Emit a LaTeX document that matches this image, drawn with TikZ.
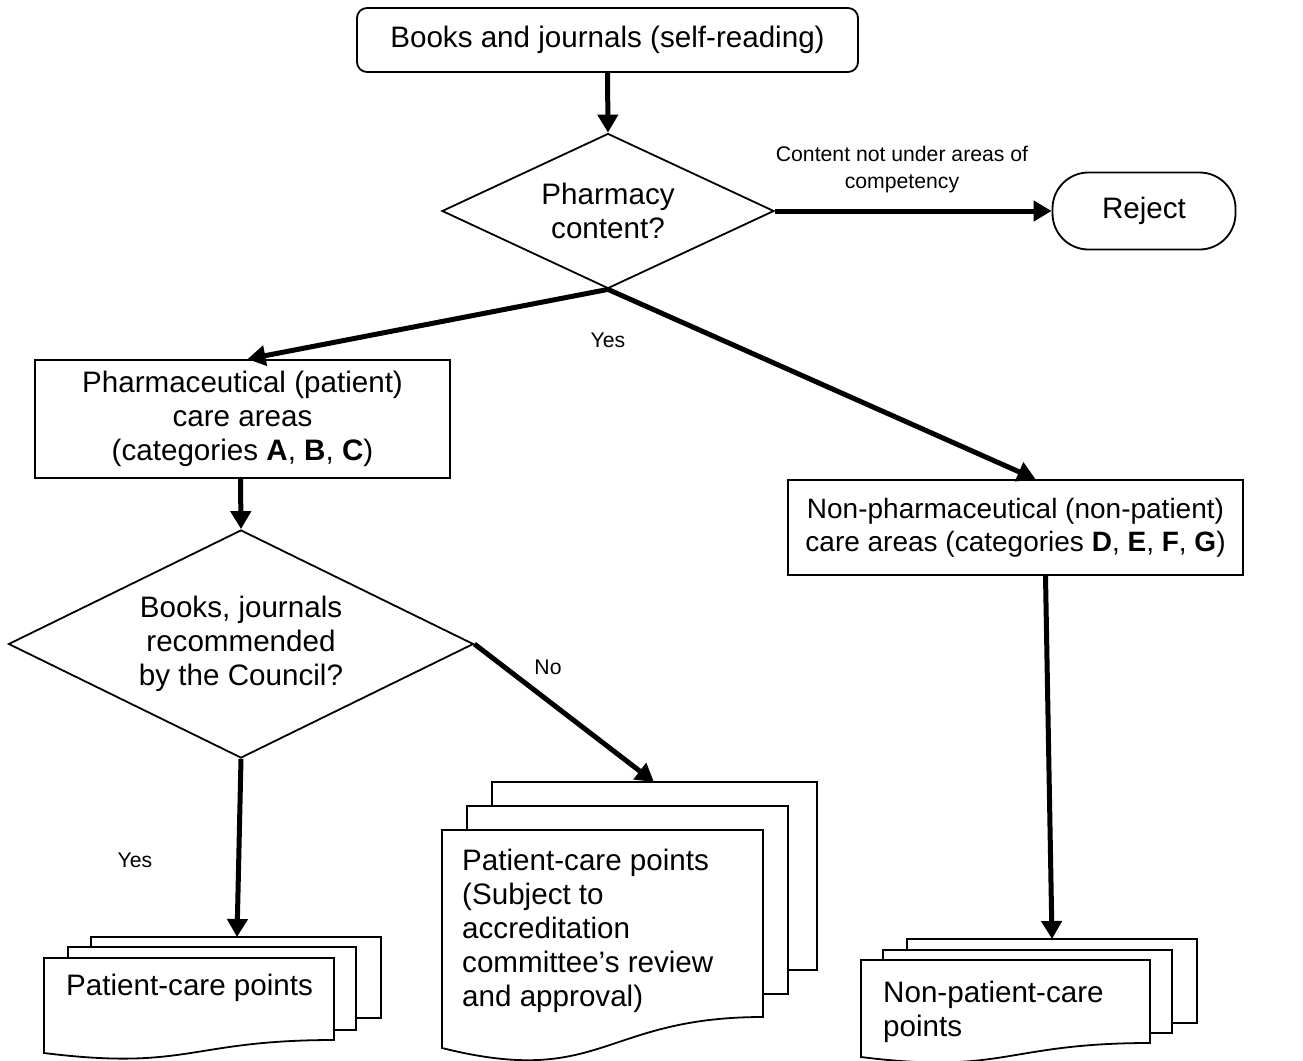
\documentclass[tikz,border=0pt]{standalone}
\usepackage{fontspec}
\setmainfont{Liberation Sans}
\usetikzlibrary{arrows.meta,shapes.geometric}
\tikzset{
  thin line/.style={line width=1.8pt, draw=black},
  arr/.style={line width=5pt, -{Triangle[length=18pt,width=20pt]}},
  maintext/.style={font=\fontsize{29.6}{34}\selectfont},
  smalltext/.style={font=\fontsize{21.2}{27}\selectfont},
  rbox/.style={thin line, rectangle, fill=white, maintext, align=center, inner sep=0pt},
  dec/.style={thin line, diamond, fill=white, maintext, align=center, inner sep=0pt},
  docpage/.style={thin line, fill=white},
  doctext/.style={maintext, align=left, inner sep=0pt, anchor=north west},
}
\begin{document}
\begin{tikzpicture}[x=1pt,y=-1pt]
\useasboundingbox[fill=white] (0,0) rectangle (1303,1060);

% nodes
\node[rbox, rounded corners=10pt, minimum width=501pt, minimum height=64pt] (top) at (607.5,40) {Books and journals (self-reading)};
\node[dec, aspect=2.14, minimum width=332pt, minimum height=155pt] (d1) at (608,211) {Pharmacy\\content?};
\node[rbox, rounded corners=36pt, minimum width=183pt, minimum height=77pt] (reject) at (1144,211) {Reject};
\node[rbox, minimum width=415pt, minimum height=118pt] (lbox) at (242.5,419) {Pharmaceutical (patient)\\care areas\\(categories \textbf{A}, \textbf{B}, \textbf{C})};
\node[rbox, font=\fontsize{28}{33}\selectfont, minimum width=455pt, minimum height=95pt] (rbox) at (1015.5,527.5) {Non-pharmaceutical (non-patient)\\care areas (categories \textbf{D}, \textbf{E}, \textbf{F}, \textbf{G})};
\node[dec, aspect=2.04, minimum width=465pt, minimum height=228pt] (d2) at (241,644) {Books, journals\\recommended\\by the Council?};

% multi-documents
\filldraw[docpage] (91,937) rectangle (381,1018);
\filldraw[docpage] (68,947) rectangle (356,1030);
\filldraw[docpage] (44,958) -- (334,958) -- (334,1040) .. controls (189,1040) and (189,1071) .. (44,1053) -- cycle;
\node[doctext] (ldoc) at (66,973.5) {Patient-care points};
\coordinate (ldoctop) at (237,937);

\filldraw[docpage] (492,782) rectangle (817,970);
\filldraw[docpage] (467,806) rectangle (788,994);
\filldraw[docpage] (442,830) -- (763,830) -- (763,1017) .. controls (602,1017) and (602,1088) .. (442,1048) -- cycle;
\node[doctext] (mdoc) at (462,848.5) {Patient-care points\\(Subject to\\accreditation\\committee’s review\\and approval)};
\coordinate (mdoctop) at (654,782);

\filldraw[docpage] (907,939) rectangle (1197,1023);
\filldraw[docpage] (883,950) rectangle (1172,1033);
\filldraw[docpage] (861,960) -- (1150,960) -- (1150,1043) .. controls (1005,1043) and (1005,1075) .. (861,1057) -- cycle;
\node[doctext] (rdoc) at (883,980.5) {Non-patient-care\\points};
\coordinate (rdoctop) at (1052,939);

% connectors
\draw[arr] (top.south) -- (d1.north);
\draw[arr] (d1.east) -- (reject.west);
\draw[arr] (d1.south) -- ([xshift=5pt]lbox.north);
\draw[arr] (d1.south) -- ([xshift=20pt]rbox.north);
\draw[arr] ([xshift=-2pt]lbox.south) -- (d2.north);
\draw[arr] (d2.east) -- (mdoctop);
\draw[arr] (d2.south) -- (ldoctop);
\draw[arr] ([xshift=30pt]rbox.south) -- (rdoctop);

% labels
\node[smalltext, align=center] (lcont) at (902,170) {Content not under areas of\\competency};
\node[smalltext] (lyes1) at (608,340) {Yes};
\node[smalltext] (lno) at (548,667) {No};
\node[smalltext] (lyes2) at (135,860) {Yes};
\end{tikzpicture}
\end{document}
